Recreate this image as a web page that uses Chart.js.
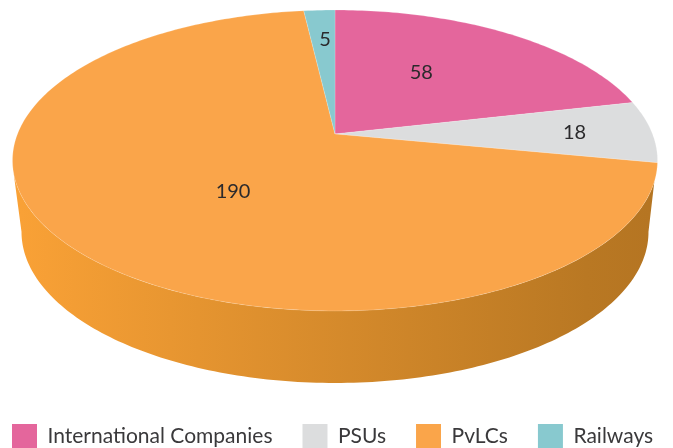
<!DOCTYPE html>
<html>
<head>
<meta charset="utf-8">
<title>Pie</title>
<script src="https://cdn.jsdelivr.net/npm/chart.js@4/dist/chart.umd.min.js"></script>
<style>
    html, body { margin: 0; padding: 0; background: #fff; overflow: hidden; }
    canvas { display: block; }
</style>
</head>
<body>
<canvas id="canvas_grafico" width="673" height="448"></canvas>
<script>
const categorias = ['International Companies', 'PSUs', 'PvLCs', 'Railways'];
const valores = [58, 18, 190, 5];
const cores = ['#E4669C', '#DCDDDE', '#FAA54A', '#88C9CF'];
// how far out each value label sits, as a fraction of the radius, and a small nudge in px
const raioRotulos = [0.51, 0.75, 0.47, 0.73];
const ajusteRotulos = [[-8, -7], [2, 0], [14, 8], [2, 0]];

const FONTE = 'Lato';
const COR_TEXTO = '#2b2a2c';

// perspective of the disc: tilted away at the top
const K = 0.176;
const CX = 335;
const topo = { y0: 134, rx: 317.5, ry: 145.8 };
const base = { y0: 205.4, rx: 308.6, ry: 146.3 };

function projetar(disco, angulo, r) {
    var u = Math.cos(angulo) * r;
    var v = -Math.sin(angulo) * r;
    var w = 1 + K * v;
    return { x: CX + disco.rx * u / w, y: disco.y0 - disco.ry * v / w };
}

function tracarArco(ctx, disco, de, ate) {
    var passos = Math.max(4, Math.ceil(Math.abs(ate - de) * 60));
    for (var i = 0; i <= passos; i++) {
        var p = projetar(disco, de + (ate - de) * i / passos, 1);
        ctx.lineTo(p.x, p.y);
    }
}

const pie3d = {
    id: 'pie3d',
    beforeDatasetsDraw(chart) {
        var ctx = chart.ctx;
        var arcos = chart.getDatasetMeta(0).data;

        // side wall
        var grad = ctx.createLinearGradient(20, 0, 650, 0);
        grad.addColorStop(0, '#F9A136');
        grad.addColorStop(0.9, '#B97823');
        grad.addColorStop(1, '#B57522');
        var rad = Math.PI / 180;
        ctx.beginPath();
        var inicio = projetar(topo, 18 * rad, 1);
        ctx.moveTo(inicio.x, inicio.y);
        tracarArco(ctx, base, 10.1 * rad, 169.9 * rad);
        tracarArco(ctx, topo, 165 * rad, 18 * rad);
        ctx.closePath();
        ctx.fillStyle = grad;
        ctx.fill();

        // slices, from the angles the library worked out
        arcos.forEach(function (arco, i) {
            ctx.beginPath();
            ctx.moveTo(CX, topo.y0);
            tracarArco(ctx, topo, arco.startAngle, arco.endAngle);
            ctx.closePath();
            ctx.fillStyle = cores[i];
            ctx.fill();
            ctx.strokeStyle = 'rgba(255,255,255,0.25)';
            ctx.lineWidth = 0.7;
            ctx.stroke();
        });

        // value labels
        ctx.fillStyle = COR_TEXTO;
        ctx.font = '20px ' + FONTE;
        ctx.textAlign = 'center';
        ctx.textBaseline = 'middle';
        arcos.forEach(function (arco, i) {
            var p = projetar(topo, (arco.startAngle + arco.endAngle) / 2, raioRotulos[i]);
            ctx.fillText(String(valores[i]), p.x + ajusteRotulos[i][0], p.y + ajusteRotulos[i][1]);
        });
        return false;
    }
};

new Chart(document.getElementById('canvas_grafico').getContext('2d'), {
    type: 'pie',
    data: {
        labels: categorias,
        datasets: [{ data: valores, backgroundColor: cores, borderWidth: 0 }]
    },
    plugins: [pie3d],
    options: {
        responsive: false,
        animation: false,
        // negative padding lets the legend row run to the canvas edges
        layout: { padding: { left: -18, right: -40, bottom: -10 } },
        plugins: {
            tooltip: { enabled: false },
            legend: {
                position: 'bottom',
                align: 'start',
                labels: {
                    boxWidth: 25,
                    boxHeight: 24,
                    padding: 30,
                    color: '#3a393b',
                    font: { family: FONTE, size: 21 }
                }
            }
        }
    }
});
</script>
</body>
</html>
